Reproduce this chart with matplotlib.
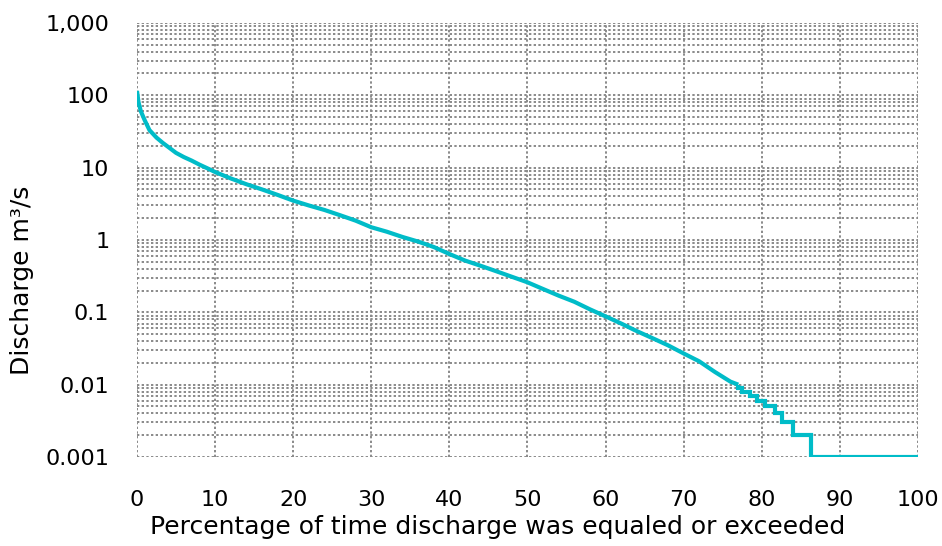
import matplotlib
matplotlib.use("Agg")
import matplotlib.pyplot as plt
from matplotlib.ticker import FixedLocator, FuncFormatter, LogLocator, NullFormatter

# Flow duration curve (percentage exceeded, discharge m3/s)
pct = [0, 0.2, 0.5, 1, 1.6, 2.5, 3.3, 4.2, 5, 6, 7, 8, 9, 10, 12, 14, 16, 18,
       20, 22, 24, 26, 28, 30, 32, 34, 36, 38, 40, 42, 44, 46, 48, 50, 52, 54,
       56, 58, 60, 62, 64, 66, 68, 70, 72, 74, 76, 77, 77.5, 78.5, 79.4, 80.4,
       81.7, 82.6, 84, 86.3, 100]
discharge = [115, 80, 60, 45, 33, 26, 22, 18.6, 16, 14, 12.5, 11, 9.8, 8.7,
             7.1, 5.9, 5.0, 4.2, 3.5, 3.0, 2.6, 2.2, 1.85, 1.5, 1.3, 1.1, 0.95,
             0.8, 0.64, 0.52, 0.44, 0.37, 0.31, 0.26, 0.21, 0.17, 0.14, 0.11,
             0.088, 0.07, 0.055, 0.044, 0.035, 0.027, 0.021, 0.015, 0.011, 0.01,
             0.009, 0.008, 0.007, 0.006, 0.005, 0.004, 0.003, 0.002, 0.001]
xticks = [0, 10, 20, 30, 40, 50, 60, 70, 80, 90, 100]
yticks = [0.001, 0.01, 0.1, 1, 10, 100, 1000]
ytick_labels = ["0.001", "0.01", "0.1", "1", "10", "100", "1,000"]

# smooth upper part / stepped low-flow tail
split = pct.index(77)

fig = plt.figure(figsize=(9.42, 5.46), dpi=100)
ax = fig.add_axes([0.1454, 0.163, 0.829, 0.795])
lc = "#00BCC8"
ax.plot(pct[:split + 1], discharge[:split + 1], color=lc, lw=3,
        solid_joinstyle="miter", solid_capstyle="butt", zorder=3)
ax.plot(pct[split:], discharge[split:], drawstyle="steps-pre", color=lc, lw=3,
        solid_joinstyle="miter", solid_capstyle="butt", zorder=3)
ax.set_yscale("log")
ax.set_xlim(0, 100)
ax.set_ylim(0.001, 1000)
ax.xaxis.set_major_locator(FixedLocator(xticks))
ax.yaxis.set_major_locator(FixedLocator(yticks))
ax.yaxis.set_major_formatter(FuncFormatter(
    lambda v, p: ytick_labels[min(range(len(yticks)), key=lambda i: abs(yticks[i] - v) / yticks[i])]))
ax.yaxis.set_minor_locator(LogLocator(base=10, subs=range(2, 10), numticks=20))
ax.yaxis.set_minor_formatter(NullFormatter())
gridkw = dict(color="#8a8a8a", linestyle=(0, (1.2, 1.2)), linewidth=1.4)
ax.grid(True, which="major", axis="both", **gridkw)
ax.grid(True, which="minor", axis="y", **gridkw)
for s in ax.spines.values():
    s.set_visible(False)
ax.tick_params(axis="both", which="both", length=0, labelsize=16, colors="black")
ax.tick_params(axis="x", pad=24)
ax.tick_params(axis="y", pad=20)
ax.set_xlabel("Percentage of time discharge was equaled or exceeded", fontsize=18, labelpad=3, x=0.462)
ax.set_ylabel("Discharge m³/s", fontsize=18, labelpad=8, y=0.408)
ax.set_axisbelow(True)
fig.savefig("out.png", dpi=100)
